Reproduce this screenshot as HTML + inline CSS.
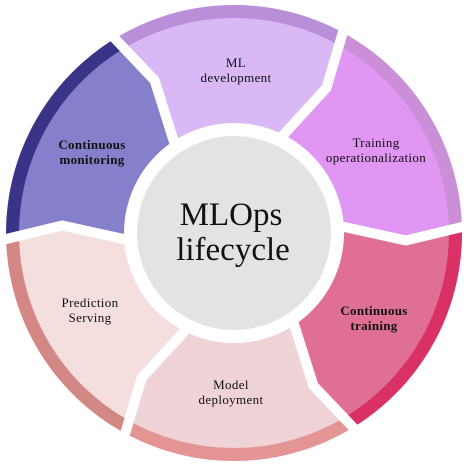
<!DOCTYPE html>
<html><head><meta charset="utf-8"><style>
html,body{margin:0;padding:0;background:#fff;}
svg{display:block;}
text{font-family:"Liberation Serif","DejaVu Serif",serif;fill:#111;text-anchor:middle;}
.s{font-size:13px;letter-spacing:0.35px;}
.b{font-size:13px;font-weight:bold;letter-spacing:0.3px;}
</style></head><body>
<svg width="467" height="467" viewBox="0 0 467 467" xmlns="http://www.w3.org/2000/svg">
<path d="M234 233 L175.3 146 L154.6 80.4 L114.9 38.6 A228 228 0 0 1 342.8 32.6 L326.4 87.9 L280 138.6 Z" fill="#d9b8f5"/>
<path d="M234 233 L280 138.6 L326.4 87.9 L342.8 32.6 A228 228 0 0 1 461.9 227 L405.8 240.5 L338.7 225.7 Z" fill="#e196f3"/>
<path d="M234 233 L338.7 225.7 L405.8 240.5 L461.9 227 A228 228 0 0 1 353.1 427.4 L313.4 385.6 L292.7 320 Z" fill="#e06f94"/>
<path d="M234 233 L292.7 320 L313.4 385.6 L353.1 427.4 A228 228 0 0 1 125.2 433.4 L141.6 378.1 L188 327.4 Z" fill="#f0d3d6"/>
<path d="M234 233 L188 327.4 L141.6 378.1 L125.2 433.4 A228 228 0 0 1 6.1 239 L62.2 225.5 L129.3 240.3 Z" fill="#f5dede"/>
<path d="M234 233 L129.3 240.3 L62.2 225.5 L6.1 239 A228 228 0 0 1 114.9 38.6 L154.6 80.4 L175.3 146 Z" fill="#8680cc"/>
<g fill="none" stroke-width="13">
<path d="M118.3 44.2 A221.5 221.5 0 0 1 339.7 38.3" stroke="#b98fd9"/>
<path d="M339.7 38.3 A221.5 221.5 0 0 1 455.4 227.2" stroke="#cb8fd8"/>
<path d="M455.4 227.2 A221.5 221.5 0 0 1 349.7 421.8" stroke="#d93066"/>
<path d="M349.7 421.8 A221.5 221.5 0 0 1 128.3 427.7" stroke="#e39493"/>
<path d="M128.3 427.7 A221.5 221.5 0 0 1 12.6 238.8" stroke="#d38886"/>
<path d="M12.6 238.8 A221.5 221.5 0 0 1 118.3 44.2" stroke="#3a3488"/>
</g>
<g fill="none" stroke="#fff" stroke-width="10" stroke-linejoin="miter">
<polyline points="175.3,146 154.6,80.4 114.9,38.6 108.6,28.4"/>
<polyline points="280,138.6 326.4,87.9 342.8,32.6 348.5,22.1"/>
<polyline points="338.7,225.7 405.8,240.5 461.9,227 473.9,226.7"/>
<polyline points="292.7,320 313.4,385.6 353.1,427.4 359.4,437.6"/>
<polyline points="188,327.4 141.6,378.1 125.2,433.4 119.5,443.9"/>
<polyline points="129.3,240.3 62.2,225.5 6.1,239 -5.9,239.3"/>
</g>
<circle cx="234" cy="233" r="110" fill="#fff"/>
<circle cx="234" cy="233" r="97" fill="#e3e3e3"/>
<text x="231" y="225" style="font-size:33px">MLOps</text>
<text x="233" y="260" style="font-size:33px">lifecycle</text>
<text class="s" x="236" y="67">ML</text>
<text class="s" x="236" y="82">development</text>
<text class="s" x="376" y="147">Training</text>
<text class="s" x="376" y="162">operationalization</text>
<text class="b" x="374" y="315">Continuous</text>
<text class="b" x="374" y="330">training</text>
<text class="s" x="231" y="389">Model</text>
<text class="s" x="231" y="404">deployment</text>
<text class="s" x="90" y="307">Prediction</text>
<text class="s" x="90" y="322">Serving</text>
<text class="b" x="92" y="149">Continuous</text>
<text class="b" x="92" y="164">monitoring</text>
</svg>
</body></html>
